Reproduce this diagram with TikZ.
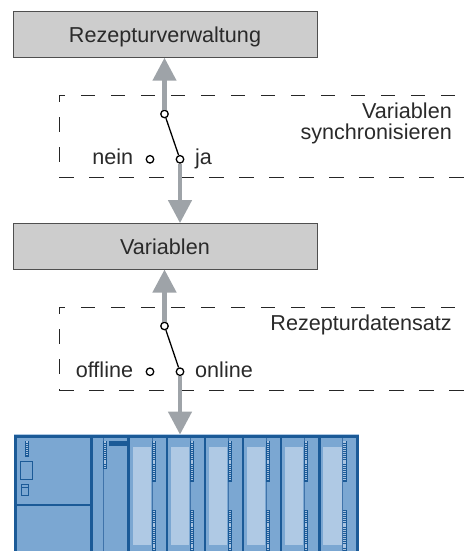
\documentclass[tikz,border=0pt]{standalone}
\usepackage{fontspec}
\setmainfont{Liberation Sans}
\usetikzlibrary{arrows.meta}
\definecolor{boxgray}{HTML}{CDCDCD}
\definecolor{boxline}{HTML}{4F4F4F}
\definecolor{flowgray}{HTML}{9EA3A8}
\definecolor{txt}{HTML}{2A2A2A}
\definecolor{rackdark}{HTML}{1B5A97}
\definecolor{rackmid}{HTML}{3F73AA}
\definecolor{rackfill}{HTML}{7BA7D2}
\definecolor{racklight}{HTML}{AFC9E4}
\definecolor{rackcell}{HTML}{A9C3E0}

% LED strip: dark frame with a ladder of small light cells
\newcommand\ledstrip[4]{%
  \fill[rackdark] (#1,#2) rectangle (#3,#4);
  \draw[rackcell, line width=2.1pt, dash pattern=on 1.2pt off 0.9pt]
    ({(#1+#3)/2},{#2+0.7}) -- ({(#1+#3)/2},{#4-0.7});
}

\begin{document}
\begin{tikzpicture}[x=1pt,y=-1pt,
  font=\fontsize{21.6}{21.6}\selectfont,
  block/.style={draw=boxline, line width=0.9pt, fill=boxgray,
    minimum width=304pt, minimum height=45.5pt,
    text height=16pt, text depth=0pt, inner sep=0pt, text=txt},
  flow/.style={draw=flowgray, line width=4.5pt,
    -{Triangle[width=23pt,length=23pt]}},
  contact/.style={circle, draw=black, fill=white, line width=1.3pt,
    minimum size=7.5pt, inner sep=0pt},
  lever/.style={draw=black, line width=1.3pt},
  frame/.style={draw=black!85, line width=0.8pt,
    dash pattern=on 14.5pt off 15.5pt},
  lbl/.style={inner sep=0pt, text=txt},
  rackline/.style={draw=rackdark, line width=2.6pt},
]
\useasboundingbox (0,0) rectangle (465,551);

% ---------- blocks ----------
\node[block] (rv)  at (165,34.5)  {Rezepturverwaltung};
\node[block] (var) at (165,246.3) {Variablen};

% ---------- dashed frames ----------
\draw[frame, dash phase=8.5pt] (59.3,95.7) -- (466,95.7);
\draw[frame, dash phase=8.5pt] (59.3,95.7) -- (59.3,177.7);
\draw[frame] (59.3,177.7) -- (466,177.7);

\draw[frame, dash phase=8.5pt] (59.3,307.7) -- (466,307.7);
\draw[frame, dash phase=8.5pt] (59.3,307.7) -- (59.3,390);
\draw[frame] (59.3,390) -- (466,390);

\node[lbl, anchor=base east] (syn1) at (452,118.3) {Variablen};
\node[lbl, anchor=base east] (syn2) at (452,139.3) {synchronisieren};
\node[lbl, anchor=base east] (rds)  at (452,330)   {Rezepturdatensatz};

% ---------- switch: Variablen synchronisieren ----------
\node[contact] (pv1) at (164.5,114) {};
\node[contact] (ja1) at (180,159.3) {};
\node[contact] (ne1) at (150,159.3) {};
\node[lbl, anchor=base east] (tne1) at (133.3,164.7) {nein};
\node[lbl, anchor=base west] (tja1) at (195,164.7) {ja};

% ---------- switch: Rezepturdatensatz ----------
\node[contact] (pv2) at (164.5,326) {};
\node[contact] (on2) at (180,371.7) {};
\node[contact] (of2) at (150,371.7) {};
\node[lbl, anchor=base east] (tof2) at (133.3,377.1) {offline};
\node[lbl, anchor=base west] (ton2) at (195,377.1) {online};

% ---------- connectors ----------
\coordinate (plc) at (180,434.6);
\draw[flow] (pv1) -- (pv1 |- rv.south);
\draw[flow] (ja1) -- (ja1 |- var.north);
\draw[flow] (pv2) -- (pv2 |- var.south);
\draw[flow] (on2) -- (plc);
\draw[lever] (pv1) -- (ja1);
\draw[lever] (pv2) -- (on2);

% ---------- controller rack ----------
\begin{scope}
\clip (0,0) rectangle (465,551);
\draw[racklight, line width=1pt] (14,434.8) -- (358.8,434.8);
\fill[rackfill] (15.3,436.5) rectangle (357.5,560);
% power supply / CPU module
\draw[rackdark, line width=0.9pt] (20,461.7) rectangle (32.7,479);
\draw[rackdark, line width=0.9pt] (21.7,484.3) rectangle (28.3,495.7);
\draw[rackdark, line width=0.7pt] (21.7,487.2) -- (28.3,487.2);
\ledstrip{25}{440.7}{28.7}{456.7}
\draw[rackline, line width=2.4pt] (15.3,504.7) -- (91.3,504.7);
% narrow interface module
\draw[rackmid, line width=0.9pt] (103.3,436.5) -- (103.3,560);
\ledstrip{103.3}{440.7}{106.7}{469.3}
\fill[rackdark] (109,440.7) rectangle (126.7,445.7);
% signal modules
\foreach \k in {0,...,5} {
  \pgfmathsetmacro\b{128.7+38.1*\k}
  \fill[racklight] (\b+3.8,446.7) rectangle (\b+22.3,545);
  \draw[rackmid, line width=0.8pt] (\b+23.3,436.5) -- (\b+23.3,560);
  \ledstrip{\b+23.3}{440.7}{\b+27.3}{481.7}
  \ledstrip{\b+23.3}{510}{\b+27.3}{560}
  \draw[rackline] (\b,436.5) -- (\b,560);
}
\draw[rackline] (91.3,436.5) -- (91.3,560);
\draw[rackline] (15.3,560) -- (15.3,436.5) -- (357.5,436.5) -- (357.5,560);
\end{scope}
\end{tikzpicture}
\end{document}
